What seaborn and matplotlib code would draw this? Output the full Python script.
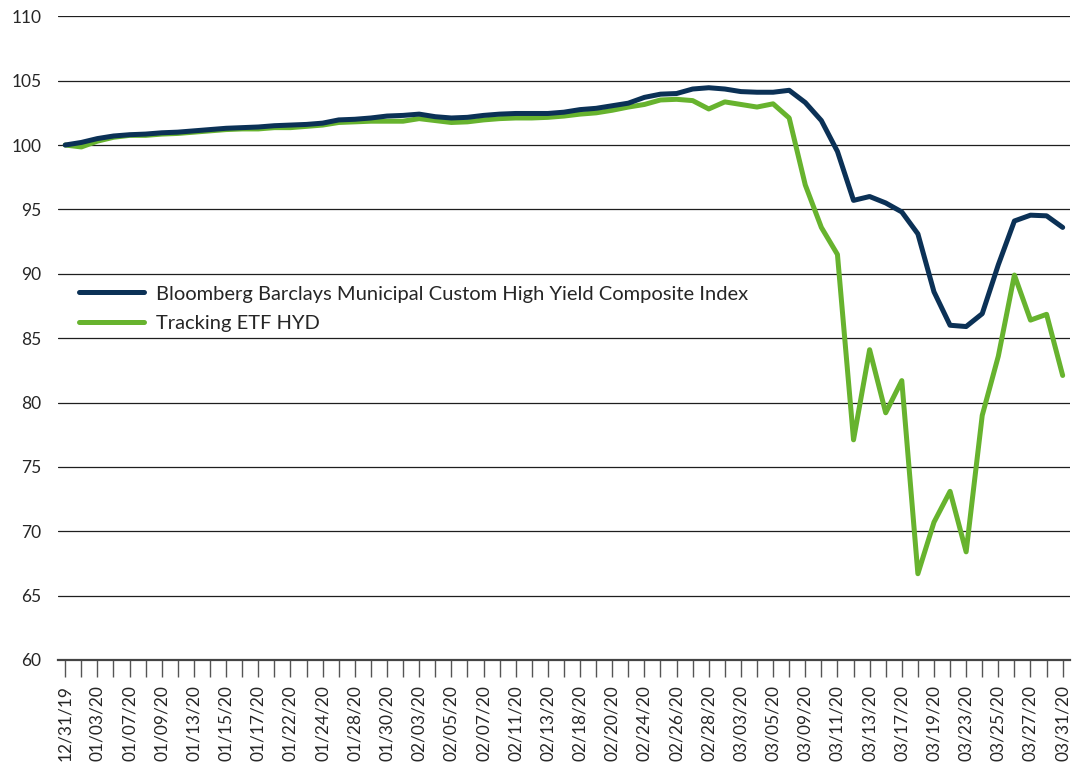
import pandas as pd
import matplotlib
matplotlib.use("Agg")
import matplotlib.pyplot as plt
import seaborn as sns

# Trading days, 12/31/19 to 03/31/20
dates = [
    "12/31/19", "01/02/20", "01/03/20", "01/06/20", "01/07/20", "01/08/20", "01/09/20", "01/10/20",
    "01/13/20", "01/14/20", "01/15/20", "01/16/20", "01/17/20", "01/21/20", "01/22/20", "01/23/20",
    "01/24/20", "01/27/20", "01/28/20", "01/29/20", "01/30/20", "01/31/20", "02/03/20", "02/04/20",
    "02/05/20", "02/06/20", "02/07/20", "02/10/20", "02/11/20", "02/12/20", "02/13/20", "02/14/20",
    "02/18/20", "02/19/20", "02/20/20", "02/21/20", "02/24/20", "02/25/20", "02/26/20", "02/27/20",
    "02/28/20", "03/02/20", "03/03/20", "03/04/20", "03/05/20", "03/06/20", "03/09/20", "03/10/20",
    "03/11/20", "03/12/20", "03/13/20", "03/16/20", "03/17/20", "03/18/20", "03/19/20", "03/20/20",
    "03/23/20", "03/24/20", "03/25/20", "03/26/20", "03/27/20", "03/30/20", "03/31/20",
]

index_vals = [
    100.0, 100.2, 100.5, 100.7, 100.8, 100.85, 100.95, 101.0,
    101.1, 101.2, 101.3, 101.35, 101.4, 101.5, 101.55, 101.6,
    101.7, 101.95, 102.0, 102.1, 102.25, 102.3, 102.4, 102.2,
    102.1, 102.15, 102.3, 102.4, 102.45, 102.45, 102.45, 102.55,
    102.75, 102.85, 103.05, 103.25, 103.7, 103.95, 104.0, 104.35,
    104.45, 104.35, 104.15, 104.1, 104.1, 104.25, 103.3, 101.9,
    99.5, 95.7, 96.0, 95.5, 94.8, 93.1, 88.6, 86.0,
    85.9, 86.9, 90.7, 94.1, 94.55, 94.5, 93.6,
]

etf_vals = [
    100.0, 99.85, 100.3, 100.6, 100.75, 100.75, 100.85, 100.9,
    101.0, 101.1, 101.2, 101.25, 101.25, 101.35, 101.35, 101.45,
    101.55, 101.75, 101.8, 101.85, 101.85, 101.85, 102.05, 101.9,
    101.75, 101.8, 101.95, 102.05, 102.1, 102.1, 102.15, 102.25,
    102.4, 102.5, 102.7, 102.95, 103.15, 103.5, 103.55, 103.45,
    102.8, 103.35, 103.15, 102.95, 103.2, 102.1, 96.9, 93.6,
    91.5, 77.1, 84.1, 79.2, 81.7, 66.7, 70.7, 73.1,
    68.4, 79.0, 83.6, 89.9, 86.4, 86.85, 82.1,
]

index_label = "Bloomberg Barclays Municipal Custom High Yield Composite Index"
etf_label = "Tracking ETF HYD"
yticks = [60, 65, 70, 75, 80, 85, 90, 95, 100, 105, 110]

df = pd.DataFrame({"pos": range(len(dates)), "date": dates,
                   "index": index_vals, "etf": etf_vals})

sns.set_style("white")
plt.rcParams["font.family"] = ["Lato", "DejaVu Sans"]

fig = plt.figure(figsize=(10.84, 7.75), dpi=100)
ax = fig.add_axes([0.0535, 0.1484, 0.9335, 0.8306])

# green underneath, navy on top
sns.lineplot(data=df, x="pos", y="etf", ax=ax, color="#67b32e", linewidth=3.6,
             label=etf_label)
sns.lineplot(data=df, x="pos", y="index", ax=ax, color="#0b3156", linewidth=3.6,
             label=index_label)

ax.set_ylim(60, 110)
ax.set_xlim(-0.45, len(dates) - 0.55)
ax.set_yticks(yticks)
for y in yticks[1:]:
    ax.axhline(y, color="#1e1e1e", linewidth=0.9, zorder=0)

ax.set_xticks(df["pos"])
ax.set_xticklabels([d if i % 2 == 0 else "" for i, d in enumerate(dates)],
                   rotation=90, fontsize=12.5)
ax.tick_params(axis="x", direction="out", length=12, width=1, color="#555555",
               pad=6, bottom=True)
ax.tick_params(axis="y", length=0, pad=12, labelsize=12.5)
ax.set_xlabel("")
ax.set_ylabel("")

for s in ["top", "right", "left"]:
    ax.spines[s].set_visible(False)
ax.spines["bottom"].set_color("#444444")
ax.spines["bottom"].set_linewidth(1.6)

handles, labels = ax.get_legend_handles_labels()
ax.legend(handles[::-1], labels[::-1], loc="upper left",
          bbox_to_anchor=(0.003, 0.61), frameon=False, fontsize=14.5,
          handlelength=3.2, handletextpad=0.6, labelspacing=0.6)

fig.savefig("out.png", dpi=100, facecolor="white")
